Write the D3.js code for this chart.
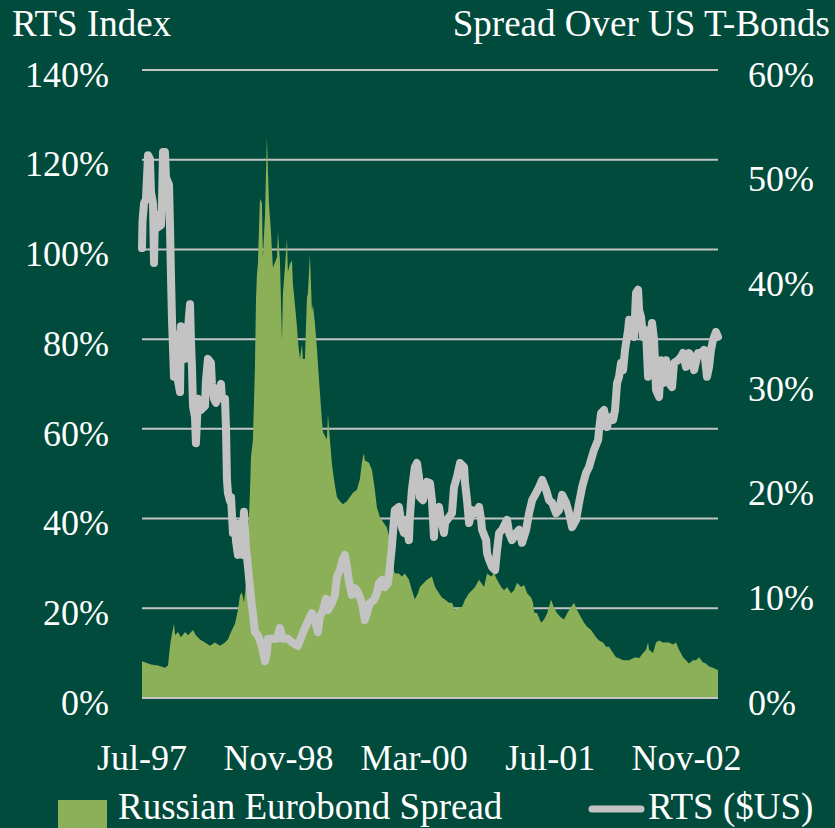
<!DOCTYPE html>
<html>
<head>
<meta charset="utf-8">
<script src="https://cdn.jsdelivr.net/npm/d3@7"></script>
<style>
  html, body { margin: 0; padding: 0; background: #004b3c; }
  svg { display: block; }
  text { font-family: "Liberation Serif", "Times New Roman", serif; fill: #ffffff; }
</style>
</head>
<body>
<svg id="chart" width="835" height="828"></svg>
<script>
// ---------------- DATA ----------------
// Decimal years for the RTS index series
const rtsYear = [1997.500,1997.505,1997.520,1997.539,1997.559,1997.578,1997.588,1997.608,1997.618,1997.627,1997.647,1997.686,1997.696,1997.706,1997.725,1997.735,1997.765,1997.775,1997.784,1997.794,1997.814,1997.833,1997.853,1997.873,1997.882,1997.902,1997.922,1997.941,1997.971,1997.980,1997.990,1998.000,1998.020,1998.029,1998.049,1998.078,1998.118,1998.127,1998.147,1998.176,1998.186,1998.206,1998.225,1998.245,1998.275,1998.284,1998.314,1998.324,1998.333,1998.343,1998.363,1998.373,1998.392,1998.412,1998.422,1998.441,1998.471,1998.490,1998.500,1998.520,1998.539,1998.559,1998.578,1998.588,1998.608,1998.637,1998.676,1998.706,1998.725,1998.735,1998.775,1998.824,1998.853,1998.882,1998.931,1998.980,1999.029,1999.069,1999.098,1999.147,1999.167,1999.196,1999.225,1999.245,1999.275,1999.304,1999.324,1999.363,1999.392,1999.412,1999.441,1999.471,1999.490,1999.510,1999.529,1999.559,1999.588,1999.618,1999.657,1999.686,1999.706,1999.735,1999.775,1999.804,1999.824,1999.853,1999.882,1999.912,1999.931,1999.951,1999.971,1999.980,2000.020,2000.029,2000.049,2000.069,2000.078,2000.118,2000.127,2000.147,2000.176,2000.196,2000.216,2000.225,2000.255,2000.275,2000.294,2000.324,2000.343,2000.363,2000.373,2000.412,2000.431,2000.461,2000.471,2000.510,2000.539,2000.559,2000.588,2000.618,2000.657,2000.667,2000.686,2000.706,2000.735,2000.765,2000.804,2000.824,2000.833,2000.873,2000.882,2000.902,2000.931,2000.961,2000.980,2001.000,2001.029,2001.078,2001.098,2001.127,2001.167,2001.196,2001.225,2001.265,2001.294,2001.324,2001.363,2001.392,2001.422,2001.461,2001.490,2001.520,2001.559,2001.588,2001.618,2001.657,2001.686,2001.716,2001.755,2001.784,2001.814,2001.853,2001.882,2001.902,2001.931,2001.971,2001.980,2002.000,2002.029,2002.059,2002.078,2002.118,2002.137,2002.157,2002.176,2002.196,2002.216,2002.235,2002.265,2002.275,2002.304,2002.324,2002.343,2002.363,2002.373,2002.392,2002.412,2002.441,2002.461,2002.480,2002.500,2002.520,2002.539,2002.569,2002.588,2002.608,2002.637,2002.667,2002.696,2002.716,2002.755,2002.784,2002.804,2002.833,2002.863,2002.892,2002.912,2002.951,2002.980,2003.010,2003.039,2003.059,2003.078,2003.098,2003.127,2003.147];
// RTS index (in $US), percent of starting level
const rtsValue = [100.3,106.3,110.3,111.2,121.0,120.2,112.8,110.3,97.0,107.9,104.8,105.4,110.3,121.7,121.7,116.1,114.4,104.8,94.3,84.5,71.6,81.1,70.7,68.2,82.9,79.6,75.6,79.6,87.8,79.6,74.0,65.1,62.6,56.8,66.7,64.2,65.1,70.7,75.6,74.7,70.0,66.7,65.8,68.2,70.0,66.7,66.7,60.2,48.8,45.7,43.9,44.8,36.8,39.0,35.0,31.9,39.0,31.9,41.5,33.4,29.4,24.5,20.5,18.9,14.7,14.0,11.6,8.2,10.0,13.2,13.2,13.2,15.6,13.2,13.2,12.3,11.6,14.0,15.6,18.1,18.9,17.2,14.7,18.1,19.6,22.1,19.6,21.2,23.0,27.0,28.5,31.0,31.9,29.4,26.1,23.0,24.5,23.6,21.2,17.4,18.9,21.2,21.8,23.4,25.6,26.3,24.7,25.6,29.2,33.7,39.7,41.9,42.6,41.2,38.1,36.8,39.7,35.2,40.3,46.4,51.5,52.4,49.3,44.8,44.1,46.4,48.2,47.9,44.1,35.9,41.9,42.6,39.7,36.8,39.0,40.3,41.2,47.0,49.3,52.4,51.5,47.9,44.1,39.0,41.9,41.2,42.6,39.7,37.5,35.2,32.3,30.8,29.2,28.5,33.0,36.8,37.5,39.7,36.8,35.2,36.8,37.5,34.6,37.5,41.2,44.1,45.7,47.0,48.6,46.4,44.1,43.5,41.2,41.9,45.3,43.5,41.2,38.1,39.7,43.5,47.0,50.2,51.5,53.1,55.3,57.5,59.7,63.5,64.2,60.4,62.6,62.0,64.2,70.2,71.6,74.7,73.1,77.6,82.0,84.3,81.4,80.5,90.3,91.0,86.5,84.9,80.5,82.0,71.6,79.8,83.6,79.8,68.7,67.1,75.3,70.2,75.3,70.2,69.3,74.7,75.3,76.0,76.9,73.8,76.9,76.0,73.1,76.9,76.9,77.6,71.6,73.8,77.6,79.8,81.6,80.5];

// Decimal years for the Russian Eurobond spread series
const spreadYear = [1997.500,1997.588,1997.657,1997.725,1997.755,1997.775,1997.784,1997.814,1997.824,1997.853,1997.882,1997.922,1997.951,1998.000,1998.029,1998.069,1998.118,1998.167,1998.216,1998.265,1998.314,1998.343,1998.373,1998.412,1998.441,1998.461,1998.480,1998.500,1998.520,1998.539,1998.559,1998.569,1998.588,1998.608,1998.618,1998.627,1998.637,1998.657,1998.676,1998.686,1998.706,1998.725,1998.745,1998.765,1998.784,1998.824,1998.833,1998.853,1998.873,1998.882,1998.902,1998.922,1998.931,1998.951,1998.971,1998.980,1999.000,1999.020,1999.029,1999.049,1999.069,1999.078,1999.098,1999.118,1999.127,1999.147,1999.167,1999.176,1999.196,1999.216,1999.225,1999.245,1999.265,1999.275,1999.314,1999.324,1999.343,1999.363,1999.373,1999.392,1999.412,1999.441,1999.471,1999.510,1999.539,1999.569,1999.608,1999.637,1999.657,1999.676,1999.686,1999.725,1999.755,1999.784,1999.804,1999.833,1999.873,1999.902,1999.931,1999.951,1999.971,1999.980,2000.020,2000.049,2000.078,2000.118,2000.147,2000.176,2000.206,2000.225,2000.265,2000.294,2000.343,2000.373,2000.412,2000.441,2000.471,2000.510,2000.539,2000.569,2000.608,2000.637,2000.667,2000.706,2000.735,2000.765,2000.804,2000.824,2000.853,2000.882,2000.922,2000.951,2000.980,2001.020,2001.049,2001.078,2001.118,2001.147,2001.176,2001.216,2001.245,2001.275,2001.314,2001.333,2001.343,2001.373,2001.412,2001.441,2001.471,2001.510,2001.539,2001.569,2001.608,2001.637,2001.667,2001.706,2001.735,2001.765,2001.804,2001.833,2001.863,2001.902,2001.922,2001.951,2001.980,2002.020,2002.049,2002.078,2002.118,2002.147,2002.176,2002.216,2002.245,2002.275,2002.314,2002.343,2002.373,2002.412,2002.441,2002.461,2002.471,2002.510,2002.539,2002.569,2002.608,2002.637,2002.667,2002.706,2002.735,2002.765,2002.804,2002.833,2002.863,2002.902,2002.931,2002.961,2003.000,2003.029,2003.059,2003.098,2003.137,2003.147];
// Spread over US T-Bonds, percent
const spreadValue = [3.5,3.2,3.1,2.9,3.1,5.0,5.6,7.1,6.0,6.3,5.8,6.3,6.0,6.5,6.0,5.6,5.3,5.0,5.3,5.0,5.3,5.6,6.3,7.1,8.4,9.8,10.1,9.1,10.9,15.4,19.6,23.0,24.7,31.7,38.0,40.4,41.5,47.7,47.3,42.1,46.0,53.6,47.3,44.5,41.1,42.1,44.5,41.8,34.1,38.6,41.1,43.9,40.7,41.5,41.8,39.6,37.6,35.5,34.1,32.4,33.8,32.4,32.4,38.3,38.6,42.4,36.9,37.6,35.8,33.4,32.0,29.2,26.5,25.4,24.7,27.1,24.7,22.4,21.6,20.3,19.2,18.8,18.5,18.8,19.2,19.6,19.9,20.9,22.5,23.4,22.7,22.5,21.8,19.9,18.2,17.3,16.7,16.3,15.1,13.2,12.2,11.9,11.9,11.6,11.9,11.3,10.3,9.4,10.0,10.6,11.0,11.3,11.6,10.6,10.0,9.6,9.4,9.1,9.1,8.4,8.7,8.7,9.4,10.0,10.3,10.6,11.3,11.0,10.6,11.9,11.6,11.9,11.3,10.6,10.3,10.6,10.0,10.3,11.0,10.6,10.8,10.0,9.6,9.1,8.2,8.1,7.2,7.5,8.1,9.4,8.6,8.1,7.7,7.5,8.1,8.7,9.1,8.4,7.7,7.2,6.8,6.5,6.2,5.8,5.5,5.3,4.9,4.9,4.3,3.9,3.8,3.6,3.6,3.6,3.8,3.9,3.8,4.3,4.6,5.3,4.6,4.3,5.3,5.5,5.3,5.3,5.3,5.1,5.3,4.6,3.9,3.6,3.3,3.6,3.6,3.9,3.4,3.3,3.0,2.9,2.7,2.7];

const leftTicks  = [0, 20, 40, 60, 80, 100, 120, 140];
const rightTicks = [0, 10, 20, 30, 40, 50, 60];
const xTickDates  = ["1997-07-01", "1998-11-01", "2000-03-01", "2001-07-01", "2002-11-01"];
const xTickLabels = ["Jul-97", "Nov-98", "Mar-00", "Jul-01", "Nov-02"];

const leftTitle  = "RTS Index";
const rightTitle = "Spread Over US T-Bonds";
const spreadName = "Russian Eurobond Spread";
const rtsName    = "RTS ($US)";

// ---------------- HELPERS ----------------
function yearToDate(t) {
  const y = Math.floor(t);
  const a = new Date(y, 0, 1), b = new Date(y + 1, 0, 1);
  return new Date(+a + (t - y) * (b - a));
}
const rts    = rtsYear.map((t, i) => ({ date: yearToDate(t), v: rtsValue[i] }));
const spread = spreadYear.map((t, i) => ({ date: yearToDate(t), v: spreadValue[i] }));

// ---------------- LAYOUT ----------------
const COLORS = { bg: "#004b3c", area: "#8cb058", line: "#c3c3c3", grid: "#c3c3c3" };
const plot = { left: 142, right: 718, top: 70, bottom: 698 };

const svg = d3.select("#chart");
svg.append("rect").attr("width", 835).attr("height", 828).attr("fill", COLORS.bg);

const x = d3.scaleTime()
  .domain([yearToDate(rtsYear[0]), yearToDate(rtsYear[rtsYear.length - 1])])
  .range([plot.left, plot.right]);
const yL = d3.scaleLinear().domain([0, 140]).range([plot.bottom, plot.top]);
const yR = d3.scaleLinear().domain([0, 60]).range([plot.bottom, plot.top]);

// gridlines
svg.append("g").selectAll("line").data(leftTicks).join("line")
  .attr("x1", plot.left).attr("x2", plot.right)
  .attr("y1", d => yL(d)).attr("y2", d => yL(d))
  .attr("stroke", COLORS.grid).attr("stroke-width", 2);

// spread area (right axis)
const area = d3.area().x(d => x(d.date)).y0(yR(0)).y1(d => yR(d.v)).curve(d3.curveLinear);
svg.append("path").datum(spread).attr("d", area).attr("fill", COLORS.area);

// bottom baseline drawn again over area
svg.append("line")
  .attr("x1", plot.left).attr("x2", plot.right)
  .attr("y1", yL(0)).attr("y2", yL(0))
  .attr("stroke", COLORS.grid).attr("stroke-width", 2);

// RTS line (left axis)
const line = d3.line().x(d => x(d.date)).y(d => yL(d.v));
svg.append("path").datum(rts).attr("d", line)
  .attr("fill", "none").attr("stroke", COLORS.line)
  .attr("stroke-width", 8).attr("stroke-linejoin", "round").attr("stroke-linecap", "round");

// axes
const fontTick = 36;
const gL = svg.append("g").attr("transform", "translate(109,0)")
  .call(d3.axisLeft(yL).tickValues(leftTicks).tickFormat(d => d + "%").tickSize(0).tickPadding(0));
const gR = svg.append("g").attr("transform", "translate(748,0)")
  .call(d3.axisRight(yR).tickValues(rightTicks).tickFormat(d => d + "%").tickSize(0).tickPadding(0));
const gB = svg.append("g").attr("transform", "translate(0,744)")
  .call(d3.axisBottom(x).tickValues(xTickDates.map(s => new Date(s + "T00:00:00")))
    .tickFormat((d, i) => xTickLabels[i]).tickSize(0).tickPadding(0));
[gL, gR, gB].forEach(g => {
  g.select(".domain").remove();
  g.selectAll("text").attr("fill", "#ffffff")
    .style("font-family", '"Liberation Serif", "Times New Roman", serif')
    .style("font-size", fontTick + "px");
});
gL.selectAll("text").attr("dy", "0.45em");
gR.selectAll("text").attr("dy", "0.45em");

// titles
svg.append("text").attr("x", 12).attr("y", 36).attr("font-size", 37).text(leftTitle);
svg.append("text").attr("x", 830).attr("y", 36).attr("font-size", 37)
  .attr("text-anchor", "end").text(rightTitle);

// legend
svg.append("rect").attr("x", 58).attr("y", 800).attr("width", 49).attr("height", 28).attr("fill", COLORS.area);
svg.append("text").attr("x", 118).attr("y", 819).attr("font-size", 37).text(spreadName);
svg.append("line").attr("x1", 592).attr("x2", 641).attr("y1", 809).attr("y2", 809)
  .attr("stroke", COLORS.line).attr("stroke-width", 7).attr("stroke-linecap", "round");
svg.append("text").attr("x", 648).attr("y", 819).attr("font-size", 37).text(rtsName);
</script>
</body>
</html>
